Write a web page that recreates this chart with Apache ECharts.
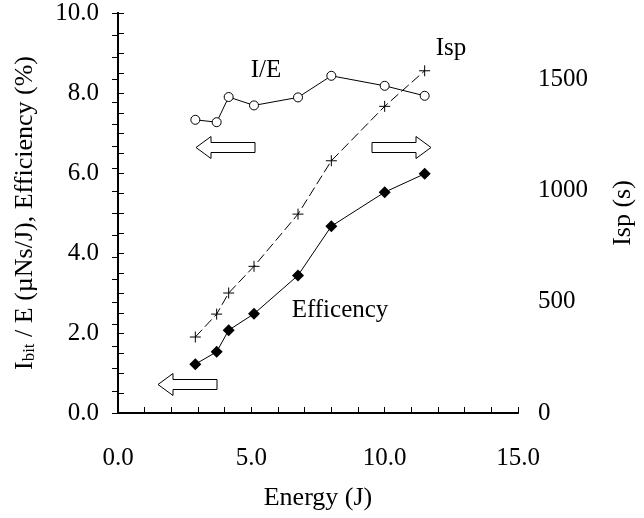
<!DOCTYPE html>
<html>
<head>
<meta charset="utf-8">
<script src="https://cdn.jsdelivr.net/npm/echarts@6/dist/echarts.min.js"></script>
<style>
  html, body { margin: 0; padding: 0; background: #fff; }
  #chart { width: 644px; height: 518px; }
</style>
</head>
<body>
<div id="chart"></div>
<script>
// Discharge energy per shot (J)
const energy = [2.9, 3.7, 4.15, 5.1, 6.75, 8.0, 10.0, 11.5];
// Impulse bit per energy (µNs/J)
const impulsePerEnergy = [7.33, 7.27, 7.9, 7.69, 7.89, 8.43, 8.18, 7.93];
// Thrust efficiency (%)
const efficiency = [1.22, 1.53, 2.07, 2.48, 3.44, 4.67, 5.52, 5.98];
// Specific impulse (s)
const specificImpulse = [342, 445, 540, 660, 895, 1135, 1380, 1540];

const FONT = '"Liberation Serif", "Times New Roman", serif';
const FS = 25;      // tick labels and notes
const FS_NAME = 26; // axis titles

const pairs = (xs, ys) => xs.map((x, i) => [x, ys[i]]);

const chart = echarts.init(document.getElementById('chart'), null, { renderer: 'canvas' });

const tickStyle = { show: true, inside: true, length: 6, lineStyle: { color: '#000', width: 1 } };
const lineStyle = { show: true, lineStyle: { color: '#000', width: 2 } };

// Open-arrow polygon pointing left or right; tip at (tx, ty)
function arrow(tx, ty, dir) {
  const head = 15, len = 59, hh = 11, sh = 5;
  const hb = tx - dir * head, end = tx - dir * len;
  return {
    type: 'polygon',
    shape: { points: [[tx, ty], [hb, ty - hh], [hb, ty - sh], [end, ty - sh], [end, ty + sh], [hb, ty + sh], [hb, ty + hh]] },
    style: { fill: '#fff', stroke: '#000', lineWidth: 1 },
    z: 10
  };
}

function note(text, x, y) {
  return {
    type: 'text', x: x, y: y,
    style: { text: text, font: FS + 'px ' + FONT, fill: '#000', textAlign: 'center', textVerticalAlign: 'middle' },
    z: 10
  };
}

chart.setOption({
  animation: false,
  backgroundColor: '#fff',
  textStyle: { fontFamily: FONT },
  grid: { left: 118, right: 121, top: 13, bottom: 105 },
  xAxis: [{
    type: 'value', min: 0, max: 15, interval: 1,
    name: 'Energy (J)', nameLocation: 'middle', nameGap: 72,
    nameTextStyle: { fontFamily: FONT, fontSize: FS_NAME, color: '#000' },
    axisLine: lineStyle, axisTick: tickStyle, splitLine: { show: false },
    axisLabel: {
      margin: 33, fontFamily: FONT, fontSize: FS, color: '#000',
      formatter: v => (Math.round(v) % 5 === 0 ? v.toFixed(1) : '')
    }
  }, {
    type: 'value', min: 0, max: 15, position: 'top',
    axisLine: { show: true, lineStyle: { color: '#000', width: 1 } },
    axisTick: { show: false }, axisLabel: { show: false }, splitLine: { show: false }
  }],
  yAxis: [{
    type: 'value', min: 0, max: 10, interval: 0.5, position: 'left',
    name: '{m|I}{s|bit}{m| / E (µNs/J), Efficiency (%)}',
    nameLocation: 'middle', nameGap: 80, nameRotate: 90,
    nameTextStyle: {
      color: '#000',
      rich: {
        m: { fontFamily: FONT, fontSize: FS_NAME, color: '#000' },
        s: { fontFamily: FONT, fontSize: 17, color: '#000', verticalAlign: 'bottom', padding: [8, 0, 0, 0] }
      }
    },
    axisLine: lineStyle, axisTick: tickStyle, splitLine: { show: false },
    axisLabel: {
      margin: 19, fontFamily: FONT, fontSize: FS, color: '#000',
      formatter: v => (Math.round(v * 2) % 4 === 0 ? v.toFixed(1) : '')
    }
  }, {
    type: 'value', min: 0, max: 1800, interval: 100, position: 'right',
    name: 'Isp (s)', nameLocation: 'middle', nameGap: 92, nameRotate: 90,
    nameTextStyle: { fontFamily: FONT, fontSize: FS_NAME, color: '#000' },
    axisLine: lineStyle, axisTick: tickStyle, splitLine: { show: false },
    axisLabel: {
      margin: 20, fontFamily: FONT, fontSize: FS, color: '#000',
      formatter: v => (Math.round(v) % 500 === 0 ? String(Math.round(v)) : '')
    }
  }],
  series: [{
    name: 'I/E', type: 'line', xAxisIndex: 0, yAxisIndex: 0,
    data: pairs(energy, impulsePerEnergy),
    symbol: 'circle', symbolSize: 9,
    itemStyle: { color: '#fff', borderColor: '#000', borderWidth: 1 },
    lineStyle: { color: '#000', width: 1 }, z: 3
  }, {
    name: 'Efficiency', type: 'line', xAxisIndex: 0, yAxisIndex: 0,
    data: pairs(energy, efficiency),
    symbol: 'diamond', symbolSize: 12,
    itemStyle: { color: '#000', borderColor: '#000', borderWidth: 0 },
    lineStyle: { color: '#000', width: 1 }, z: 3
  }, {
    name: 'Isp', type: 'line', xAxisIndex: 0, yAxisIndex: 1,
    data: pairs(energy, specificImpulse),
    symbol: 'path://M0,5L10,5M5,0L5,10', symbolSize: 11,
    itemStyle: { color: 'none', borderColor: '#000', borderWidth: 1 },
    lineStyle: { color: '#000', width: 1, type: [10, 4] }, z: 3
  }],
  graphic: [
    arrow(196, 147.5, -1),
    arrow(431, 147.5, 1),
    arrow(158, 384.5, -1),
    note('I/E', 266, 70),
    note('Isp', 451, 48),
    note('Efficency', 340, 310)
  ]
});
</script>
</body>
</html>
